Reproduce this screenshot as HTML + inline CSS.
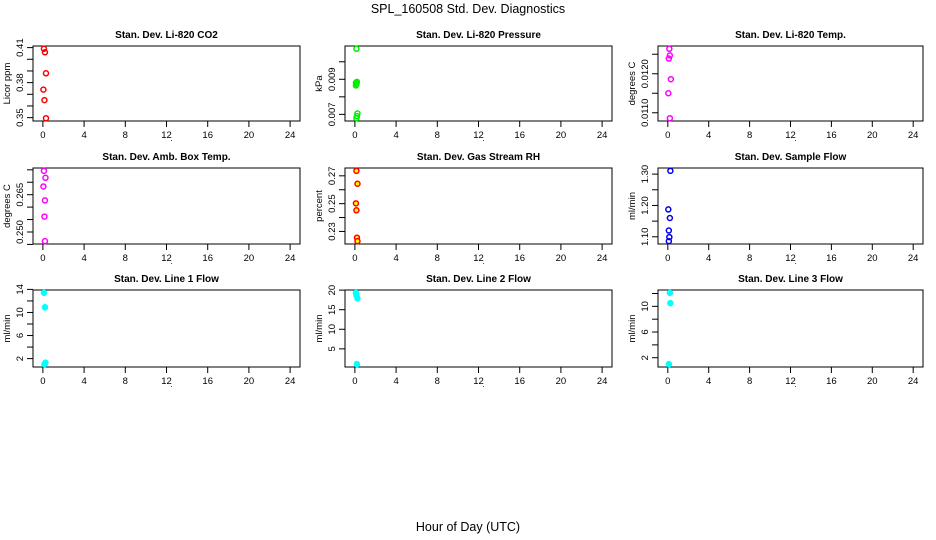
<!DOCTYPE html>
<html><head><meta charset="utf-8"><style>
html,body{margin:0;padding:0;background:#fff;}
svg{display:block;font-family:"Liberation Sans",Arial,sans-serif;}
</style></head><body>
<svg id="chart" width="936" height="540" viewBox="0 0 936 540" xmlns="http://www.w3.org/2000/svg">
<text x="468" y="13" text-anchor="middle" font-size="12.5">SPL_160508  Std. Dev. Diagnostics</text>
<text x="468" y="531" text-anchor="middle" font-size="12.5">Hour of Day (UTC)</text>
</svg>
<script>
const xTicks = [0,4,8,12,16,20,24];
const titles = ["Stan. Dev. Li-820 CO2","Stan. Dev. Li-820 Pressure","Stan. Dev. Li-820 Temp.","Stan. Dev. Amb. Box Temp.","Stan. Dev. Gas Stream RH","Stan. Dev. Sample Flow","Stan. Dev. Line 1 Flow","Stan. Dev. Line 2 Flow","Stan. Dev. Line 3 Flow"];
const units = ["Licor ppm","kPa","degrees C","degrees C","percent","ml/min","ml/min","ml/min","ml/min"];
const co2X = [0.1,0.2,0.3,0.05,0.15,0.3];
const co2Y = [0.409,0.406,0.388,0.374,0.365,0.3495];
const presX = [0.15,0.2,0.1,0.15,0.1,0.25,0.2,0.15];
const presY = [0.01074,0.00885,0.0088,0.00872,0.00865,0.00705,0.0069,0.00678];
const tempX = [0.15,0.2,0.1,0.3,0.05,0.2];
const tempY = [0.01264,0.01247,0.01239,0.01186,0.0115,0.01086];
const ambX = [0.1,0.25,0.05,0.2,0.15,0.2];
const ambY = [0.2746,0.2718,0.2683,0.2627,0.2562,0.2463];
const rhX = [0.15,0.25,0.1,0.15,0.2,0.25];
const rhY = [0.2736,0.2643,0.2502,0.2452,0.2255,0.223];
const flowX = [0.25,0.05,0.2,0.1,0.15,0.1];
const flowY = [1.3105,1.1874,1.16,1.12,1.099,1.086];
const l1X = [0.1,0.2,0.25,0.15];
const l1Y = [13.4,10.9,1.3,1.04];
const l2X = [0.1,0.15,0.25,0.2];
const l2Y = [19.3,18.7,17.9,1.1];
const l3X = [0.2,0.25,0.1];
const l3Y = [12.1,10.5,1.0];
const yTicks = [[0.35,0.36,0.37,0.38,0.39,0.40,0.41],[0.007,0.008,0.009,0.010],[0.0110,0.0115,0.0120,0.0125],[0.245,0.250,0.255,0.260,0.265,0.270,0.275],[0.23,0.24,0.25,0.26,0.27],[1.10,1.15,1.20,1.25,1.30],[2,4,6,8,10,12,14],[5,10,15,20],[2,4,6,8,10,12]];
const yLabels = [["0.35","","","0.38","","","0.41"],["0.007","","0.009",""],["0.0110","","0.0120",""],["","0.250","","","0.265","",""],["0.23","","0.25","","0.27"],["1.10","","1.20","","1.30"],["2","","6","","10","","14"],["5","10","15","20"],["2","","6","","10",""]];
const seriesX = [co2X,presX,tempX,ambX,rhX,flowX,l1X,l2X,l3X];
const seriesY = [co2Y,presY,tempY,ambY,rhY,flowY,l1Y,l2Y,l3Y];
const strokes = ["#ff0000","#00ee00","#ff00ff","#ff00ff","#ff0000","#0000ee","#00ffff","#00ffff","#00ffff"];
const fills = ["none","none","none","none","#ffff00","none","#00ffff","#00ffff","#00ffff"];

const NS="http://www.w3.org/2000/svg";
const svg=document.getElementById('chart');
const colL=[33,345,658], colR=[300,612,923];
const rowT=[46,168,290], rowB=[121,244,367];
function mk(tag,attrs,parent){const e=document.createElementNS(NS,tag);for(const k in attrs)e.setAttribute(k,attrs[k]);(parent||svg).appendChild(e);return e;}
for(let p=0;p<9;p++){
  const L=colL[p%3],R=colR[p%3],T=rowT[Math.floor(p/3)],B=rowB[Math.floor(p/3)];
  const g=mk('g',{});
  
  
  const ys=seriesY[p];
  const mn=Math.min(...ys),mx=Math.max(...ys),r=mx-mn;
  const y0=mn-0.04*r,y1=mx+0.04*r;
  const xs=v=>L+(v+0.96)/(25.92)*(R-L);
  const yS=v=>B-(v-y0)/(y1-y0)*(B-T);
  const box=mk('rect',{x:L,y:T,width:R-L,height:B-T,fill:'none',stroke:'#000','stroke-width':1},g);
  
  
  const t=mk('text',{x:(L+R)/2,y:T-8,'text-anchor':'middle','font-size':10,'font-weight':'bold'},g);
  t.textContent=titles[p];
  
  
  xTicks.forEach(v=>{
    const x=xs(v);
    mk('line',{x1:x,x2:x,y1:B,y2:B+6,stroke:'#000'},g);
    const tl=mk('text',{x:x,y:B+17,'text-anchor':'middle','font-size':9.5},g);
    tl.textContent=v;
    
    
  });
  const dot=mk('text',{x:xs(12.5),y:B+20,'text-anchor':'middle','font-size':8},g);
  dot.textContent='.';
  
  
  yTicks[p].forEach((v,i)=>{
    const y=yS(v);
    mk('line',{x1:L-6,x2:L,y1:y,y2:y,stroke:'#000'},g);
    if(yLabels[p][i]){
      const yl=mk('text',{x:0,y:0,'text-anchor':'middle','font-size':9.5,transform:`translate(${L-10},${y}) rotate(-90)`},g);
      yl.textContent=yLabels[p][i];
      
      
    }
  });
  const yt=mk('text',{x:0,y:0,'text-anchor':'middle','font-size':9.5,transform:`translate(${L-23},${(T+B)/2}) rotate(-90)`},g);
  yt.textContent=units[p];
  
  
  ys.forEach((v,i)=>{
    const c=mk('circle',{cx:xs(seriesX[p][i]),cy:yS(v),r:2.5,fill:fills[p],stroke:strokes[p],'stroke-width':1.5},g);
    
    
  });
}
</script>
</body></html>
